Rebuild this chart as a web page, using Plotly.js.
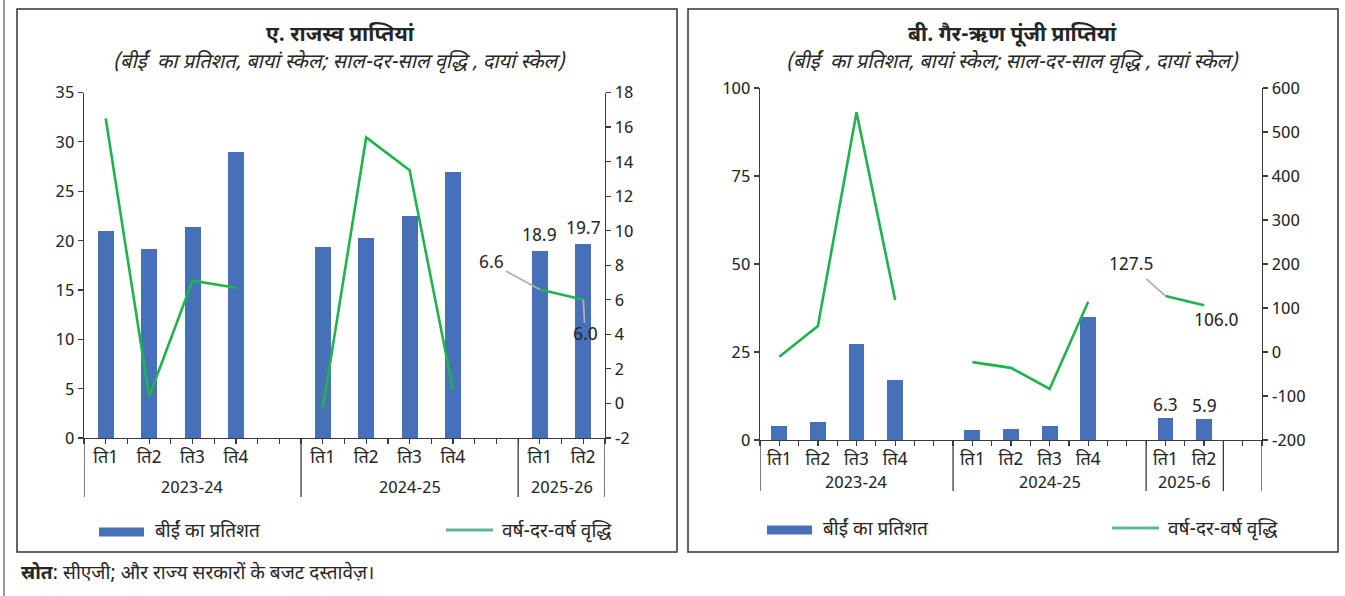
<!DOCTYPE html>
<html>
<head>
<meta charset="utf-8">
<script src="https://cdn.plot.ly/plotly-3.0.1.min.js"></script>
<style>
  html, body { margin: 0; padding: 0; background: #fff; }
  #chart { width: 1345px; height: 596px; }
</style>
</head>
<body>
<div id="chart"></div>
<script>
// ---- data -------------------------------------------------------------
// Panel A: revenue receipts (12 slots: 5 + 5 + 2)
const quartersA = ['ति1', 'ति2', 'ति3', 'ति4', '', 'ति1', 'ति2', 'ति3', 'ति4', '', 'ति1', 'ति2'];
const yearsA = ['2023-24', '2024-25', '2025-26'];
const yearSpansA = [5, 5, 2];
const revShareBE = [21.0, 19.1, 21.4, 29.0, null, 19.3, 20.3, 22.5, 26.9, null, 18.9, 19.7];
const revGrowth = [16.5, 0.4, 7.1, 6.7, null, -0.3, 15.4, 13.5, 0.8, null, 6.6, 6.0];

// Panel B: non-debt capital receipts (13 slots: 5 + 5 + 2 + 1 empty)
const quartersB = ['ति1', 'ति2', 'ति3', 'ति4', '', 'ति1', 'ति2', 'ति3', 'ति4', '', 'ति1', 'ति2', ''];
const yearsB = ['2023-24', '2024-25', '2025-6', ''];
const yearSpansB = [5, 5, 2, 1];
const capShareBE = [4.0, 5.1, 27.3, 17.0, null, 2.8, 3.1, 4.0, 34.9, null, 6.3, 5.9, null];
const capGrowth = [-11, 59, 545, 118, null, -23, -36, -84, 114, null, 127.5, 106.0, null];

// axis tick labels
const leftTicksA = [0, 5, 10, 15, 20, 25, 30, 35];
const rightTicksA = [-2, 0, 2, 4, 6, 8, 10, 12, 14, 16, 18];
const leftTicksB = [0, 25, 50, 75, 100];
const rightTicksB = [-200, -100, 0, 100, 200, 300, 400, 500, 600];

const titleA = 'ए. राजस्व प्राप्तियां';
const titleB = 'बी. गैर-ऋण पूंजी प्राप्तियां';
const subtitle = '(बीईं  का प्रतिशत, बायां स्केल; साल-दर-साल वृद्धि , दायां स्केल)';
const barName = 'बीईं का प्रतिशत';
const lineName = 'वर्ष-दर-वर्ष वृद्धि';
const sourceLabel = 'स्रोत';
const sourceText = ': सीएजी; और राज्य सरकारों के बजट दस्तावेज़।';

// ---- helpers ----------------------------------------------------------
const W = 1345, H = 596;
const px = x => x / W;
const py = y => 1 - y / H;
const FONT = 'Noto Sans Devanagari, Noto Sans, sans-serif';
const INK = '#262626';
const AXIS = '#3a3a3a';
const BLUE = '#4670b7';
const GREEN = '#1fb44b';
const LEGEND_GREEN = '#5db88c';
const LEADER = '#b0b0b0';

const idx = arr => arr.map((_, i) => i);
const hy = v => String(v);

// tick marks every half slot; labels only under slot centres
function halfTicks(quarters) {
  const vals = [], text = [];
  quarters.forEach((q, i) => {
    vals.push(i - 0.5); text.push('');
    vals.push(i); text.push(q);
  });
  vals.push(quarters.length - 0.5); text.push('');
  return { vals, text };
}

function groupDecor(xref, years, spans, yLabel, yBottom, yAxisPx) {
  const shapes = [], anns = [];
  let start = 0;
  const bounds = [-0.5];
  years.forEach((yr, k) => {
    const end = start + spans[k];
    bounds.push(end - 0.5);
    if (yr) {
      anns.push({
        xref, yref: 'paper', x: (start + end - 1) / 2, y: py(yLabel),
        text: yr, showarrow: false, font: { family: FONT, size: 17, color: INK },
        xanchor: 'center', yanchor: 'middle'
      });
    }
    start = end;
  });
  bounds.forEach(b => shapes.push({
    type: 'line', xref, yref: 'paper', x0: b, x1: b, y0: py(yAxisPx), y1: py(yBottom),
    line: { color: AXIS, width: 1.3 }
  }));
  return { shapes, anns };
}

const tA = halfTicks(quartersA);
const tB = halfTicks(quartersB);

// ---- traces -----------------------------------------------------------
const traces = [
  { type: 'bar', x: idx(quartersA), y: revShareBE, xaxis: 'x', yaxis: 'y', width: 0.37,
    marker: { color: BLUE }, hoverinfo: 'y', showlegend: false },
  { type: 'scatter', mode: 'lines', x: idx(quartersA), y: revGrowth, xaxis: 'x', yaxis: 'y2',
    line: { color: GREEN, width: 2.6 }, connectgaps: false, showlegend: false },
  { type: 'bar', x: idx(quartersB), y: capShareBE, xaxis: 'x2', yaxis: 'y3', width: 0.41,
    marker: { color: BLUE }, hoverinfo: 'y', showlegend: false },
  { type: 'scatter', mode: 'lines', x: idx(quartersB), y: capGrowth, xaxis: 'x2', yaxis: 'y4',
    line: { color: GREEN, width: 2.6 }, connectgaps: false, showlegend: false }
];

// ---- axes -------------------------------------------------------------
const tickFont = { family: FONT, size: 17, color: INK };
const baseY = {
  showgrid: false, zeroline: false, showline: true, linecolor: AXIS, linewidth: 1.3,
  ticks: 'outside', ticklen: 5, tickcolor: AXIS, tickwidth: 1.2, tickfont: tickFont, fixedrange: true
};
const baseX = Object.assign({}, baseY, { ticklen: 5, tickangle: 0, tickfont: { family: FONT, size: 18, color: INK }, ticklabelstandoff: -3 });

const layout = {
  width: W, height: H,
  margin: { l: 0, r: 0, t: 0, b: 0 },
  paper_bgcolor: '#fff', plot_bgcolor: 'rgba(0,0,0,0)',
  bargap: 0, showlegend: false,
  xaxis: Object.assign({}, baseX, {
    domain: [px(84), px(605)], range: [-0.5, quartersA.length - 0.5], anchor: 'y',
    tickmode: 'array', tickvals: tA.vals, ticktext: tA.text
  }),
  yaxis: Object.assign({}, baseY, {
    domain: [py(438), py(92.5)], range: [0, 35], anchor: 'x',
    tickmode: 'array', tickvals: leftTicksA, ticktext: leftTicksA.map(hy)
  }),
  yaxis2: Object.assign({}, baseY, {
    overlaying: 'y', side: 'right', range: [-2, 18], anchor: 'x',
    tickmode: 'array', tickvals: rightTicksA, ticktext: rightTicksA.map(hy)
  }),
  xaxis2: Object.assign({}, baseX, {
    domain: [px(760), px(1262)], range: [-0.5, quartersB.length - 0.5], anchor: 'y3',
    tickmode: 'array', tickvals: tB.vals, ticktext: tB.text
  }),
  yaxis3: Object.assign({}, baseY, {
    domain: [py(440), py(88)], range: [0, 100], anchor: 'x2',
    tickmode: 'array', tickvals: leftTicksB, ticktext: leftTicksB.map(hy)
  }),
  yaxis4: Object.assign({}, baseY, {
    overlaying: 'y3', side: 'right', range: [-200, 600], anchor: 'x2',
    tickmode: 'array', tickvals: rightTicksB, ticktext: rightTicksB.map(hy)
  }),
  shapes: [],
  annotations: []
};

// panel frames and the outer rule
layout.shapes.push(
  { type: 'line', xref: 'paper', yref: 'paper', x0: px(4), x1: px(4), y0: 0, y1: 1, line: { color: '#555', width: 1.2 } },
  { type: 'rect', xref: 'paper', yref: 'paper', x0: px(17), x1: px(677), y0: py(552), y1: py(9), line: { color: '#333', width: 1.5 } },
  { type: 'rect', xref: 'paper', yref: 'paper', x0: px(688), x1: px(1338), y0: py(552), y1: py(9), line: { color: '#333', width: 1.5 } }
);

// year grouping below each category axis
const gA = groupDecor('x', yearsA, yearSpansA, 489, 497, 438);
const gB = groupDecor('x2', yearsB, yearSpansB, 484, 491, 440);
layout.shapes.push(...gA.shapes, ...gB.shapes);
layout.annotations.push(...gA.anns, ...gB.anns);

// titles
const titleFont = { family: FONT, size: 21, color: INK };
const subFont = { family: FONT, size: 20, color: INK };
const centred = { xref: 'paper', yref: 'paper', showarrow: false, xanchor: 'center', yanchor: 'middle' };
layout.annotations.push(
  Object.assign({}, centred, { x: px(340), y: py(36), text: '<b>' + titleA + '</b>', font: titleFont }),
  Object.assign({}, centred, { x: px(339), y: py(63), text: '<i>' + subtitle + '</i>', font: subFont }),
  Object.assign({}, centred, { x: px(1012), y: py(36), text: '<b>' + titleB + '</b>', font: titleFont }),
  Object.assign({}, centred, { x: px(1012), y: py(63), text: '<i>' + subtitle + '</i>', font: subFont })
);

// legends (drawn per panel)
function legend(xRect, xLine, yMid) {
  layout.shapes.push(
    { type: 'rect', xref: 'paper', yref: 'paper', x0: px(xRect), x1: px(xRect + 45), y0: py(yMid + 4.5), y1: py(yMid - 4.5),
      fillcolor: BLUE, line: { width: 0 } },
    { type: 'line', xref: 'paper', yref: 'paper', x0: px(xLine), x1: px(xLine + 47), y0: py(yMid - 2), y1: py(yMid - 2),
      line: { color: LEGEND_GREEN, width: 3 } }
  );
  layout.annotations.push(
    { xref: 'paper', yref: 'paper', x: px(xRect + 54), y: py(yMid), xanchor: 'left', yanchor: 'middle',
      text: barName, showarrow: false, font: { family: FONT, size: 19, color: INK } },
    { xref: 'paper', yref: 'paper', x: px(xLine + 54), y: py(yMid), xanchor: 'left', yanchor: 'middle',
      text: lineName, showarrow: false, font: { family: FONT, size: 19, color: INK } }
  );
}
legend(99, 446, 532);
legend(767, 1112, 530);

// source line
layout.annotations.push({
  xref: 'paper', yref: 'paper', x: px(19), y: py(574), xanchor: 'left', yanchor: 'middle',
  text: '<b>' + sourceLabel + '</b>' + sourceText, showarrow: false,
  font: { family: FONT, size: 19, color: INK }
});

// value labels
const valFont = { family: FONT, size: 18, color: INK };
const fmt = v => v.toFixed(1);
const nA = revShareBE.length;
// bar values for the latest two quarters
[nA - 2, nA - 1].forEach(i => layout.annotations.push({
  xref: 'x', yref: 'y', x: i, y: revShareBE[i], text: fmt(revShareBE[i]), showarrow: false,
  xanchor: 'center', yanchor: 'bottom', yshift: 1, font: valFont
}));
// growth callouts with leader lines
layout.annotations.push(
  { xref: 'x', yref: 'y2', x: nA - 2, y: revGrowth[nA - 2], text: fmt(revGrowth[nA - 2]),
    showarrow: true, arrowhead: 0, arrowwidth: 1.8, arrowcolor: LEADER, ax: -48, ay: -26, standoff: 0, font: valFont },
  { xref: 'x', yref: 'y2', x: nA - 1, y: revGrowth[nA - 1], text: fmt(revGrowth[nA - 1]),
    showarrow: true, arrowhead: 0, arrowwidth: 1.8, arrowcolor: LEADER, ax: 2, ay: 36, standoff: 0, font: valFont }
);
const iB1 = 10, iB2 = 11;
[iB1, iB2].forEach(i => layout.annotations.push({
  xref: 'x2', yref: 'y3', x: i, y: capShareBE[i], text: fmt(capShareBE[i]), showarrow: false,
  xanchor: 'center', yanchor: 'bottom', yshift: -2, font: valFont
}));
layout.annotations.push(
  { xref: 'x2', yref: 'y4', x: iB1, y: capGrowth[iB1], text: fmt(capGrowth[iB1]),
    showarrow: true, arrowhead: 0, arrowwidth: 1.8, arrowcolor: LEADER, ax: -34, ay: -30, standoff: 0, font: valFont },
  { xref: 'x2', yref: 'y4', x: iB2, y: capGrowth[iB2], text: fmt(capGrowth[iB2]),
    showarrow: false, xanchor: 'center', yanchor: 'middle', xshift: 12, yshift: -16, font: valFont }
);

Plotly.newPlot('chart', traces, layout, { staticPlot: true, displayModeBar: false });
</script>
</body>
</html>
